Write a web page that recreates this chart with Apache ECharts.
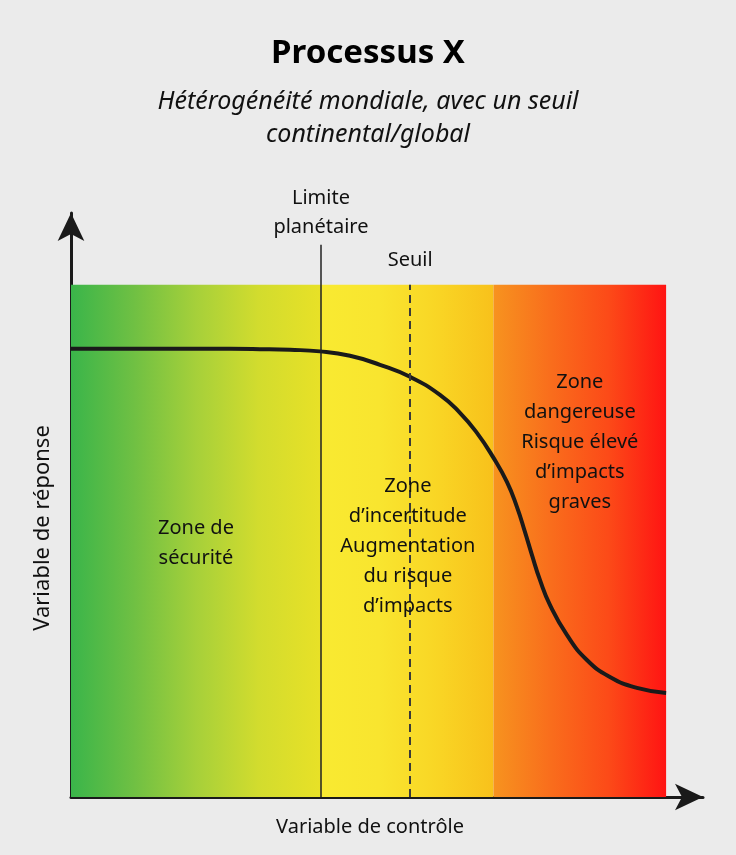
<!DOCTYPE html>
<html>
<head>
<meta charset="utf-8">
<script src="https://cdn.jsdelivr.net/npm/echarts@6/dist/echarts.min.js"></script>
<style>
html,body{margin:0;padding:0;background:#ebebeb;}
#c{width:736px;height:855px;}
</style>
</head>
<body>
<div id="c"></div>
<script>
// Curve: response variable vs control variable (axis units 0..100)
const curveX = [0, 6.55, 13.27, 19.99, 26.71, 31.75, 36.79, 41.83, 46.88, 51.92, 56.96, 62.00, 65.36, 68.21, 70.90, 73.25, 74.93, 76.28, 77.45, 78.80, 80.48, 83.33, 86.69, 90.56, 95.09, 100];
const curveY = [87.48, 87.48, 87.48, 87.48, 87.48, 87.42, 87.29, 86.99, 86.12, 84.36, 82.02, 78.50, 74.99, 71.08, 66.39, 61.51, 56.63, 51.75, 47.26, 42.37, 37.49, 31.63, 26.75, 23.43, 21.29, 20.31];
// Zone boundaries on the control axis
const zoneBounds = [0, 42, 71, 100];
const limitX = 42;
const thresholdX = 57;
const zoneTexts = ['Zone de\nsécurité', 'Zone\nd’incertitude\nAugmentation\ndu risque\nd’impacts', 'Zone\ndangereuse\nRisque élevé\nd’impacts\ngraves'];
const limitText = 'Limite\nplanétaire';
const thresholdText = 'Seuil';

const FONT = 'Noto Sans';
const grad = (stops) => new echarts.graphic.LinearGradient(0, 0, 1, 0, stops.map((c, i) => ({offset: i / (stops.length - 1), color: c})));

const chart = echarts.init(document.getElementById('c'));
chart.setOption({
  backgroundColor: '#ebebeb',
  animation: false,
  title: [
    {text: 'Processus X', left: 'center', top: 32,
     textStyle: {fontFamily: FONT, fontSize: 33, fontWeight: 'bold', color: '#000'}},
    {text: 'Hétérogénéité mondiale, avec un seuil\ncontinental/global', left: 'center', top: 80,
     textStyle: {fontFamily: FONT, fontSize: 25, fontStyle: 'italic', fontWeight: 'normal', lineHeight: 33, color: '#111'}}
  ],
  grid: {left: 71, right: 33, top: 213, bottom: 58},
  xAxis: {
    type: 'value', min: 0, max: 106.2,
    name: 'Variable de contrôle', nameLocation: 'middle', nameGap: 20,
    nameTextStyle: {fontFamily: FONT, fontSize: 20, color: '#111', padding: [0, 34, 0, 0]},
    axisLine: {show: true, onZero: false, lineStyle: {color: '#1a1a1a', width: 3}, symbol: ['none', 'arrow'], symbolSize: [20, 28]},
    axisTick: {show: false}, axisLabel: {show: false}, splitLine: {show: false}
  },
  yAxis: {
    type: 'value', min: 0, max: 114,
    name: 'Variable de réponse', nameLocation: 'middle', nameGap: 17,
    nameTextStyle: {fontFamily: FONT, fontSize: 22, color: '#111', padding: [0, 46, 0, 0]},
    axisLine: {show: true, onZero: false, lineStyle: {color: '#1a1a1a', width: 3}, symbol: ['none', 'arrow'], symbolSize: [20, 28]},
    axisTick: {show: false}, axisLabel: {show: false}, splitLine: {show: false}
  },
  series: [
    {
      type: 'line', data: [], z: 1, silent: true,
      markArea: {
        silent: true,
        data: [
          [{xAxis: zoneBounds[0], yAxis: 0, itemStyle: {color: grad(['#3ab54a', '#6fc043', '#a6d03a', '#d2dc2e', '#e8e127'])}}, {xAxis: zoneBounds[1], yAxis: 100}],
          [{xAxis: zoneBounds[1], yAxis: 0, itemStyle: {color: grad(['#f9ea31', '#f9e52f', '#f9d625', '#f8c11b'])}}, {xAxis: zoneBounds[2], yAxis: 100}],
          [{xAxis: zoneBounds[2], yAxis: 0, itemStyle: {color: grad(['#f7931f', '#f96d1c', '#fc4a18', '#ff1413'])}}, {xAxis: zoneBounds[3], yAxis: 100}]
        ]
      }
    },
    {
      type: 'line', data: [], z: 3, silent: true,
      markLine: {
        silent: true, symbol: ['none', 'none'],
        data: [
          [{coord: [limitX, 0], lineStyle: {color: '#222', width: 1.5, type: 'solid'},
            label: {show: true, position: 'end', formatter: limitText, distance: 3, fontFamily: FONT, fontSize: 20, lineHeight: 29, color: '#111'}},
           {coord: [limitX, 107.8]}],
          [{coord: [thresholdX, 0], lineStyle: {color: '#3a3a3a', width: 2, type: [8, 5]},
            label: {show: true, position: 'end', formatter: thresholdText, distance: 14, fontFamily: FONT, fontSize: 20, color: '#111'}},
           {coord: [thresholdX, 100]}]
        ]
      }
    },
    {
      type: 'line', z: 4, smooth: 0.5, symbol: 'none', silent: true,
      data: curveX.map((x, i) => [x, curveY[i]]),
      lineStyle: {color: '#1a1a1a', width: 4},
      markPoint: {
        silent: true, symbol: 'circle', symbolSize: 0,
        label: {show: true, position: 'inside', fontFamily: FONT, fontSize: 20, lineHeight: 30, color: '#111'},
        data: [
          {coord: [21, 49.6], value: zoneTexts[0], label: {formatter: zoneTexts[0]}},
          {coord: [56.6, 49], value: zoneTexts[1], label: {formatter: zoneTexts[1]}},
          {coord: [85.5, 69.3], value: zoneTexts[2], label: {formatter: zoneTexts[2]}}
        ]
      }
    }
  ]
});
</script>
</body>
</html>
